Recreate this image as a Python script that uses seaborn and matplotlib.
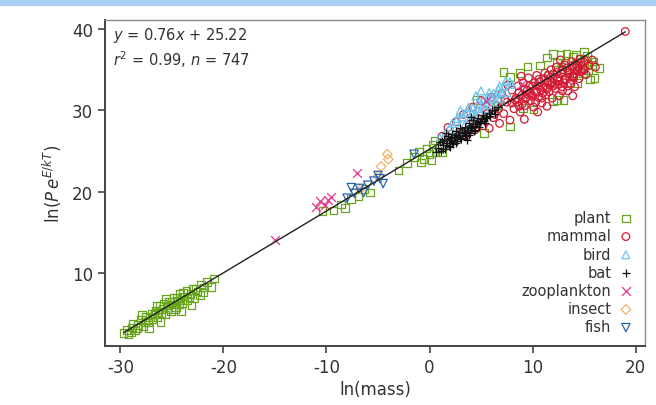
import numpy as np
import pandas as pd
import matplotlib
matplotlib.use("Agg")
import matplotlib.pyplot as plt
import seaborn as sns
from matplotlib.patches import Rectangle

# fit reported on the chart
slope = 0.76
intercept = 25.22
r2 = 0.99
n_total = 747

# points (ln(mass), ln(P e^{E/kT}))
plant_x = [-29.7, -29.4, -29.2, -28.9, -28.6, -28.8, -28.3, -28.0, -27.8, -27.5,
           -27.3, -27.0, -26.9, -26.6, -26.4, -26.2, -26.0, -25.8, -25.7, -25.5,
           -25.3, -25.1, -24.9, -24.8, -24.6, -24.4, -24.2, -24.0, -23.8, -23.6,
           -23.5, -23.2, -23.0, -22.8, -22.5, -22.2, -22.0, -21.6, -21.2, -20.9,
           -27.2, -26.1, -24.1, -23.1,
           -29.0, -28.4, -27.6, -27.1, -26.7, -26.3, -25.9, -25.4, -25.0, -24.5,
           -24.3, -23.9, -23.3, -22.7, -22.3, -21.9, -27.9, -26.5, -25.6, -24.7,
           -10.4, -9.3, -8.6, -8.2, -7.6, -6.9, -5.8, -6.3, -3.0, -2.2,
           -1.5, -1.0, -0.6, -0.3, 0.0, 0.3, 0.6, 0.9, -0.8, 0.2, 1.2, 0.5,
           4.6, 5.3, 7.2, 7.8, 8.8, 9.5, 10.7, 11.4, 12.0, 12.7, 13.3, 13.9,
           14.6, 15.3, 15.9, 16.5, 14.9, 14.3, 13.7, 13.0, 12.4, 12.0, 10.1, 9.1,
           7.8, 6.6, 15.6, 14.0, 13.2, 11.6, 15.0, 16.0,
           12.8, 13.6, 14.6, 15.4, 14.2, 12.4, 15.8]
plant_y = [2.6, 3.0, 2.5, 3.3, 2.9, 3.8, 3.6, 4.2, 3.4, 4.6,
           3.9, 5.0, 4.3, 5.4, 4.6, 5.9, 5.1, 6.2, 4.9, 5.6,
           6.5, 5.3, 6.1, 7.0, 5.8, 6.6, 7.4, 6.3, 7.1, 7.8,
           6.6, 7.4, 8.1, 6.9, 7.7, 8.6, 7.6, 8.9, 8.3, 9.3,
           3.2, 4.0, 5.3, 6.0,
           2.7, 3.2, 4.0, 4.5, 4.9, 5.2, 5.6, 6.0, 6.4, 6.9,
           6.1, 7.6, 7.0, 8.0, 7.3, 8.2, 4.8, 6.0, 6.8, 5.6,
           17.6, 17.7, 18.4, 18.0, 19.1, 19.4, 19.9, 20.3, 22.6, 23.5,
           24.3, 24.9, 24.0, 25.3, 24.6, 25.8, 24.9, 25.4, 23.6, 23.9, 24.8, 26.3,
           31.3, 27.2, 34.7, 34.1, 34.6, 35.4, 35.5, 36.5, 36.9, 36.8, 37.0, 36.6,
           36.4, 36.7, 36.0, 35.2, 34.6, 33.4, 33.4, 31.3, 31.3, 31.1, 30.1, 30.3,
           28.0, 30.6, 33.8, 35.2, 35.8, 34.4, 37.2, 34.0,
           35.4, 34.6, 35.6, 35.0, 36.8, 35.9, 35.6]

mammal_x = [1.2, 1.8, 2.3, 2.6, 3.0, 3.3, 3.6, 3.9, 4.2, 4.4, 4.7, 5.0, 5.2, 5.5,
            5.8, 6.0, 6.2, 6.5, 6.8, 7.0, 7.2, 7.5, 7.8, 8.0,
            8.2, 8.4, 8.6, 8.8, 9.0, 9.1, 9.3, 9.5, 9.6, 9.8, 10.0, 10.1, 10.3,
            10.4, 10.6, 10.7, 10.9, 11.0, 11.2, 11.3, 11.5, 11.6, 11.8, 11.9,
            12.0, 12.2, 12.3, 12.5, 12.6, 12.8, 12.9, 13.1, 13.2, 13.4, 13.5,
            13.7, 13.8, 14.0, 14.1, 14.3, 14.5, 14.6, 14.8, 15.0, 15.2, 15.5,
            15.8, 16.1, 10.5, 9.2, 11.4, 12.7, 13.9, 8.9, 7.6,
            8.5, 8.7, 9.0, 9.2, 9.4, 9.7, 9.9, 10.2, 10.4, 10.6, 10.8, 11.1, 11.3,
            11.5, 11.7, 12.0, 12.2, 12.4, 12.6, 12.9, 13.1, 13.3, 13.6, 13.8, 14.0,
            14.2, 14.4, 14.7, 14.9, 15.1,
            9.5, 10.0, 10.5, 11.0, 11.5, 12.0, 12.5, 13.0, 13.5, 14.0, 14.5, 15.0,
            8.0, 8.3, 8.7, 9.3, 9.8, 10.3, 10.9, 11.4, 11.9, 12.4, 12.9, 13.4,
            13.9, 14.4, 7.3, 6.7, 6.3, 5.6,
            19.0]
mammal_y = [26.8, 27.9, 26.4, 28.6, 27.2, 29.5, 26.9, 28.3, 30.4, 27.6, 29.0, 31.2, 28.1, 30.0,
            27.8, 31.6, 29.1, 30.6, 28.4, 32.0, 29.6, 31.0, 28.8, 32.5,
            30.2, 31.5, 33.0, 29.8, 31.9, 33.4, 30.6, 32.5, 34.0, 31.2, 33.0, 30.4, 32.2,
            34.3, 31.6, 33.5, 30.9, 32.8, 34.6, 31.9, 33.6, 32.3, 35.0, 31.5,
            33.9, 32.7, 35.3, 33.2, 31.8, 34.5, 32.9, 35.6, 33.8, 32.4, 34.9,
            33.3, 36.0, 34.2, 32.9, 35.4, 33.9, 36.3, 34.8, 35.9, 34.4, 35.6,
            36.2, 35.3, 29.8, 28.9, 30.5, 36.2, 31.8, 34.2, 33.1,
            31.0, 32.2, 30.8, 32.6, 31.6, 33.0, 31.9, 33.4, 32.3, 33.8, 32.5, 33.9, 32.8,
            34.3, 33.1, 34.5, 33.2, 34.7, 33.6, 35.0, 33.9, 35.2, 34.1, 35.4, 34.5,
            35.7, 34.8, 35.9, 35.1, 36.1,
            32.0, 31.7, 33.0, 32.1, 33.4, 33.0, 34.0, 33.4, 34.6, 34.0, 35.2, 35.0,
            30.9, 31.3, 30.5, 31.4, 32.1, 31.0, 31.5, 32.6, 33.4, 33.8, 32.4, 33.0,
            34.2, 35.0, 31.4, 30.2, 29.5, 29.6,
            39.7]

bird_x = [1.6, 2.0, 2.3, 2.6, 2.9, 3.2, 3.4, 3.7, 3.9, 4.2, 4.4, 4.7, 4.9, 5.2,
          5.4, 5.7, 5.9, 6.2, 6.4, 6.7, 6.9, 7.2, 7.5, 7.8, 3.0, 4.5, 1.0, 5.0,
          2.2, 2.7, 3.5, 3.8, 4.1, 4.6, 5.1, 5.5, 5.8, 6.0, 6.5, 6.8, 7.0, 7.4, 8.0]
bird_y = [27.3, 28.0, 27.0, 28.7, 27.8, 29.2, 28.2, 29.8, 28.9, 30.3, 29.3, 30.8, 29.8, 31.3,
          30.2, 31.6, 30.7, 32.1, 31.0, 32.6, 31.5, 33.0, 32.2, 33.5, 30.0, 31.8, 26.6, 32.4,
          28.4, 29.0, 29.6, 30.4, 29.6, 30.2, 30.6, 31.0, 32.2, 31.4, 32.0, 33.0, 32.2, 33.6, 33.2]

bat_x = [0.8, 1.0, 1.1, 1.3, 1.4, 1.5, 1.7, 1.8, 1.9, 2.1, 2.2, 2.3, 2.5, 2.6, 2.7,
         2.9, 3.0, 3.1, 3.3, 3.4, 3.5, 3.7, 3.8, 3.9, 4.1, 4.2, 4.3, 4.5, 4.7, 4.8,
         5.0, 5.2, 5.4, 5.6, 2.0, 3.6, 1.6, 4.0, 0.6, 5.8, 6.1, 6.4, 6.6,
         1.2, 1.6, 2.0, 2.4, 2.8, 3.2, 3.6, 4.0, 4.4, 4.6, 5.1, 5.5, 1.3, 2.6,
         3.9, 4.9, 2.2, 3.0, 3.8, 4.4, 5.3, 5.9, 6.3, 1.9, 3.4]
bat_y = [25.4, 26.1, 25.0, 25.7, 26.5, 25.3, 26.0, 26.9, 25.6, 26.4, 27.1, 25.9, 26.7, 27.5, 26.2,
         27.0, 27.8, 26.5, 27.3, 28.0, 26.9, 27.6, 28.4, 27.2, 28.0, 28.8, 27.5, 28.3, 29.1, 27.9,
         28.7, 29.4, 28.4, 29.2, 25.5, 26.4, 27.2, 29.2, 24.9, 29.7, 30.1, 29.6, 30.4,
         26.2, 25.8, 26.3, 26.6, 26.8, 27.2, 27.6, 27.8, 28.1, 28.6, 28.9, 29.0, 25.2, 26.0,
         27.8, 28.5, 26.0, 26.6, 27.0, 27.6, 28.7, 29.3, 30.0, 26.3, 27.0]

zoo_x = [-15.0, -10.6, -10.1, -9.6, -9.9, -7.0, -11.0, 5.5, 9.0]
zoo_y = [14.0, 18.8, 18.4, 19.3, 19.0, 22.3, 18.1, 31.2, 33.2]

insect_x = [-4.1, -4.7, -5.0, -6.7, -4.0]
insect_y = [24.6, 23.1, 21.9, 20.3, 24.0]

fish_x = [-8.0, -7.3, -6.8, -6.0, -5.4, -4.8, -4.5, -5.0, -6.4, -1.5, -7.6]
fish_y = [19.2, 19.8, 20.4, 20.8, 21.3, 21.6, 21.0, 22.0, 19.9, 24.6, 20.5]

groups = ["plant", "mammal", "bird", "bat", "zooplankton", "insect", "fish"]
colors = {"plant": "#6aa51e", "mammal": "#d31a34", "bird": "#6ec3ea", "bat": "#111111",
          "zooplankton": "#e2358c", "insect": "#f2b36a", "fish": "#2b63b0"}
markers = {"plant": "s", "mammal": "o", "bird": "^", "bat": "+",
           "zooplankton": "x", "insect": "D", "fish": "v"}
sizes = {"plant": 30, "mammal": 30, "bird": 32, "bat": 40,
         "zooplankton": 40, "insect": 24, "fish": 36}

frames = []
for name, xs, ys in [("plant", plant_x, plant_y), ("mammal", mammal_x, mammal_y),
                     ("bird", bird_x, bird_y), ("bat", bat_x, bat_y),
                     ("zooplankton", zoo_x, zoo_y), ("insect", insect_x, insect_y),
                     ("fish", fish_x, fish_y)]:
    frames.append(pd.DataFrame({"mass": xs, "perf": ys, "group": name}))
df = pd.concat(frames, ignore_index=True)

sns.set_style("ticks")
plt.rcParams["font.family"] = ["DejaVu Sans"]
plt.rcParams["axes.unicode_minus"] = False

fig = plt.figure(figsize=(6.56, 4.06), dpi=100)
ax = fig.add_axes([0.16, 0.145, 0.823, 0.803])

# light blue strip along the top edge
fig.patches.append(Rectangle((0, 1 - 6 / 406), 1, 6 / 406, transform=fig.transFigure,
                             color="#a9d0f6", zorder=0))

for name in groups:
    sub = df[df.group == name]
    kw = dict(marker=markers[name], s=sizes[name], linewidth=0.9, label=name,
              ax=ax, zorder=2, color=colors[name])
    if markers[name] not in ("+", "x"):
        # open symbols: coloured outline, no fill
        kw["facecolors"] = "none"
        kw["edgecolor"] = colors[name]
    sns.scatterplot(data=sub, x="mass", y="perf", **kw)

# regression line across the range of the data
xline = np.array([df.mass.min(), df.mass.max()])
ax.plot(xline, slope * xline + intercept, color="#222222", lw=1.0, zorder=3)

ax.set_xlim(-31.5, 20.9)
ax.set_ylim(1.0, 41.1)
ax.set_xticks([-30, -20, -10, 0, 10, 20])
ax.set_yticks([10, 20, 30, 40])

for side in ["left", "bottom"]:
    ax.spines[side].set_color("#444444")
    ax.spines[side].set_linewidth(1.4)
for side in ["top", "right"]:
    ax.spines[side].set_visible(True)
    ax.spines[side].set_color("#8a8a8a")
    ax.spines[side].set_linewidth(1.0)

ax.tick_params(direction="out", length=5, width=1.2, color="#444444",
               labelcolor="#333333", labelsize=12)
ax.set_xlabel("ln(mass)", fontsize=12, color="#333333", labelpad=3)
ax.set_ylabel(r"ln($P\,e^{E/kT}$)", fontsize=12, color="#333333", labelpad=6)

ax.text(0.015, 0.985, r"$y$ = %.2f$x$ + %.2f" % (slope, intercept),
        transform=ax.transAxes, va="top", ha="left", fontsize=10.5, color="#333333")
ax.text(0.015, 0.915, r"$r^2$ = %.2f, $n$ = %d" % (r2, n_total),
        transform=ax.transAxes, va="top", ha="left", fontsize=10.5, color="#333333")

leg = ax.legend(loc="lower right", frameon=False, markerfirst=False, fontsize=10.5,
                handletextpad=0.5, labelspacing=0.22, borderaxespad=0.4,
                handlelength=1.0, scatterpoints=1)
for t in leg.get_texts():
    t.set_color("#333333")

fig.savefig("out.png", dpi=100)
